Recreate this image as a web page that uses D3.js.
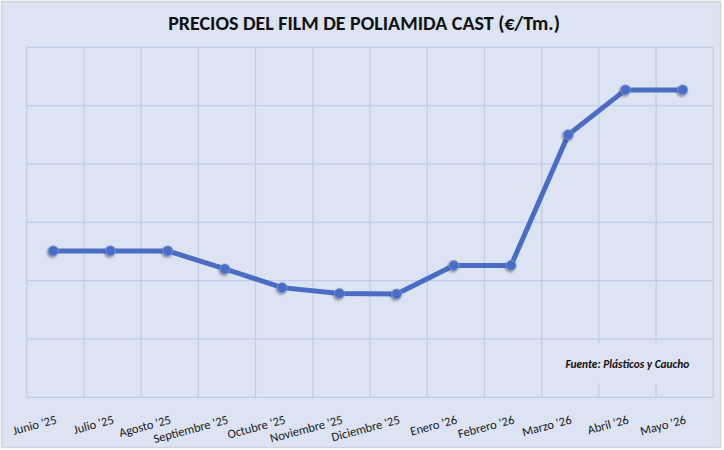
<!DOCTYPE html>
<html>
<head>
<meta charset="utf-8">
<script src="https://cdn.jsdelivr.net/npm/d3@7"></script>
<style>
  body { margin: 0; background: #ffffff; }
  svg { display: block; }
  .tick-label { font-family: Carlito, 'Open Sans', sans-serif; font-size: 12.5px; fill: #1a1a1a; }
</style>
</head>
<body>
<script>
// chart data
var months = ["Junio '25", "Julio '25", "Agosto '25", "Septiembre '25", "Octubre '25", "Noviembre '25",
  "Diciembre '25", "Enero '26", "Febrero '26", "Marzo '26", "Abril '26", "Mayo '26"]
var prices = [4255, 4255, 4255, 4100, 3940, 3890, 3885, 4130, 4130, 5250, 5635, 5635]
var yTicks = [3000, 3500, 4000, 4500, 5000, 5500, 6000]
var title = 'PRECIOS DEL FILM DE POLIAMIDA CAST (€/Tm.)'
var source = 'Fuente: Plásticos y Caucho'

var W = 724, H = 450
var margin = {top: 47.3, right: 10.7, bottom: 52.7, left: 26.7},
  width = W - margin.left - margin.right,
  height = H - margin.top - margin.bottom

var svg = d3.select('body').append('svg')
  .attr('width', W)
  .attr('height', H)

var defs = svg.append('defs')
var shadow = defs.append('filter')
  .attr('id', 'dotShadow')
  .attr('x', '-60%').attr('y', '-60%')
  .attr('width', '220%').attr('height', '220%')
shadow.append('feDropShadow')
  .attr('dx', -1).attr('dy', 1.5)
  .attr('stdDeviation', 1.3)
  .attr('flood-color', '#3a3f55')
  .attr('flood-opacity', 0.55)

// chart background + outer border
svg.append('rect')
  .attr('x', 1.5).attr('y', 1.5)
  .attr('width', W - 5).attr('height', H - 4)
  .attr('fill', '#dce3f3')
  .attr('stroke', '#cfd3dc')
  .attr('stroke-width', 1.5)

svg.append('text')
  .attr('x', W / 2 + 2)
  .attr('y', 30)
  .attr('text-anchor', 'middle')
  .style('font-family', "Carlito, 'Open Sans', sans-serif")
  .style('font-weight', 'bold')
  .style('font-size', '20px')
  .attr('fill', '#111')
  .text(title)

var g = svg.append('g')
  .attr('transform', 'translate(' + margin.left + ',' + margin.top + ')')

var x = d3.scaleBand()
  .domain(months)
  .range([0, width])

var y = d3.scaleLinear()
  .domain([yTicks[0], yTicks[yTicks.length - 1]])
  .range([height, 0])

// horizontal grid
g.append('g')
  .attr('class', 'grid')
  .selectAll('line')
  .data(yTicks)
  .join('line')
  .attr('x1', 0).attr('x2', width)
  .attr('y1', d => y(d)).attr('y2', d => y(d))
  .attr('stroke', '#bfcce9')
  .attr('stroke-width', 1.2)

// vertical grid on band edges
var edges = months.map(m => x(m)).concat([width])
g.append('g')
  .attr('class', 'grid')
  .selectAll('line')
  .data(edges)
  .join('line')
  .attr('x1', d => d).attr('x2', d => d)
  .attr('y1', 0).attr('y2', height)
  .attr('stroke', '#bfcce9')
  .attr('stroke-width', 1.2)

// source note box (covers the grid behind it)
var noteBox = g.append('g')
  .attr('transform', 'translate(' + (width - 155) + ',' + (height - 54) + ')')
noteBox.append('rect')
  .attr('width', 148).attr('height', 40)
  .attr('fill', '#dce3f3')
noteBox.append('text')
  .attr('x', 131).attr('y', 25)
  .attr('text-anchor', 'end')
  .style('font-family', "Carlito, 'Open Sans', sans-serif")
  .style('font-weight', 'bold')
  .style('font-style', 'italic')
  .style('font-size', '11.4px')
  .attr('fill', '#111')
  .text(source)

// x labels, slanted
var px = d => x(d) + x.bandwidth() / 2 - 2
g.append('g')
  .selectAll('text')
  .data(months)
  .join('text')
  .attr('class', 'tick-label')
  .attr('text-anchor', 'end')
  .attr('transform', d => 'translate(' + (px(d) + 4) + ',' + (height + 26) + ') rotate(-15)')
  .text(d => d)

var data = months.map((m, i) => ({month: m, price: prices[i]}))

var line = d3.line()
  .x(d => px(d.month))
  .y(d => y(d.price))

g.append('path')
  .datum(data)
  .attr('d', line)
  .attr('fill', 'none')
  .attr('stroke', '#4a6cc4')
  .attr('stroke-width', 5)
  .attr('stroke-linejoin', 'round')

g.append('g')
  .selectAll('circle')
  .data(data)
  .join('circle')
  .attr('cx', d => px(d.month))
  .attr('cy', d => y(d.price))
  .attr('r', 5)
  .attr('fill', '#4a6cc4')
  .attr('stroke', '#7f9ad8')
  .attr('stroke-width', 0.8)
  .attr('filter', 'url(#dotShadow)')
</script>
</body>
</html>
